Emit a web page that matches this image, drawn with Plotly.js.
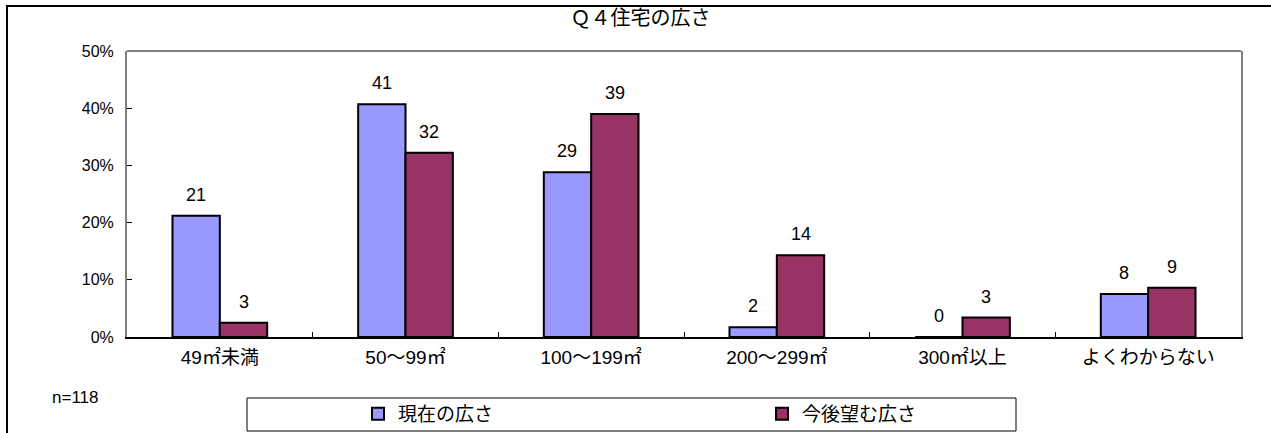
<!DOCTYPE html>
<html>
<head>
<meta charset="utf-8">
<script src="https://cdn.plot.ly/plotly-3.0.1.min.js"></script>
<style>
  html, body { margin: 0; padding: 0; background: #fff; }
  #chart { position: absolute; left: 0; top: 0; width: 1271px; height: 433px; }
  #frame { position: absolute; left: 6px; top: 5px; width: 1400px; height: 600px;
           border-top: 2px solid #000; border-left: 2px solid #000; pointer-events: none; }
</style>
</head>
<body>
<div id="chart"></div>
<div id="frame"></div>
<script>
// ---- data ----
const categories = ["49㎡未満", "50～99㎡", "100～199㎡", "200～299㎡", "300㎡以上", "よくわからない"];
const currentValues = [21.2, 40.7, 28.8, 1.7, 0, 7.5];
const futureValues  = [2.5, 32.2, 39.0, 14.3, 3.4, 8.6];
const currentLabels = ["21", "41", "29", "2", "0", "8"];
const futureLabels  = ["3", "32", "39", "14", "3", "9"];
const seriesNames = ["現在の広さ", "今後望む広さ"];
const yTicks = [0, 10, 20, 30, 40, 50];
const titleText = "Ｑ４住宅の広さ";
const noteText = "n=118";

// ---- layout geometry ----
const W = 1271, H = 433;
const M = { l: 127, r: 30, t: 51, b: 96, autoexpand: false };
const plotW = W - M.l - M.r, plotH = H - M.t - M.b;
const px2x = p => (p - M.l) / plotW;
const py2y = p => (H - M.b - p) / plotH;
const bargap = 0.49;
const barW = plotW / categories.length * (1 - bargap) / 2;
const off = barW / 2;

const FONT = 'Liberation Sans, Arial, "Noto Sans CJK JP", sans-serif';

const traces = [
  { type: 'bar', name: seriesNames[0], x: categories, y: currentValues,
    marker: { color: '#9999FF', line: { color: '#000', width: 2 } }, hoverinfo: 'skip' },
  { type: 'bar', name: seriesNames[1], x: categories, y: futureValues,
    marker: { color: '#993366', line: { color: '#000', width: 2 } }, hoverinfo: 'skip' }
];

const annotations = [];
categories.forEach((c, i) => {
  annotations.push({ x: c, y: currentValues[i], text: currentLabels[i], xshift: -off, yshift: 9,
    yanchor: 'bottom', showarrow: false, font: { size: 18, color: '#000', family: FONT } });
  annotations.push({ x: c, y: futureValues[i], text: futureLabels[i], xshift: off, yshift: 9,
    yanchor: 'bottom', showarrow: false, font: { size: 18, color: '#000', family: FONT } });
});
annotations.push({ xref: 'paper', yref: 'paper', x: px2x(50), y: py2y(397), xanchor: 'left', yanchor: 'middle',
  text: noteText, showarrow: false, font: { size: 17, color: '#000', family: FONT } });

const shapes = [
  // top border of plot area
  { type: 'line', xref: 'paper', yref: 'paper', x0: 0, x1: 1, y0: 1, y1: 1, line: { color: '#808080', width: 2 } },
  // legend box
  { type: 'rect', xref: 'paper', yref: 'paper', x0: px2x(247), x1: px2x(1016), y0: py2y(431), y1: py2y(398),
    line: { color: '#000', width: 1 }, fillcolor: '#fff', layer: 'below' }
];

const layout = {
  width: W, height: H,
  margin: M,
  paper_bgcolor: 'rgba(0,0,0,0)', plot_bgcolor: '#fff',
  font: { family: FONT, color: '#000' },
  title: { text: titleText, font: { size: 20, family: '"Noto Sans CJK JP", sans-serif', color: '#000' },
           x: 0.504, xanchor: 'center', y: 1 - 18 / H, yanchor: 'middle' },
  barmode: 'group', bargap: bargap, bargroupgap: 0,
  xaxis: { type: 'category', showline: true, linecolor: '#000', linewidth: 2,
           ticks: 'inside', tickson: 'boundaries', ticklen: 5, tickcolor: '#000', tickwidth: 1,
           tickfont: { size: 19, family: FONT }, ticklabelstandoff: 2, showgrid: false, zeroline: false,
           fixedrange: true },
  yaxis: { range: [0, 50], tickvals: yTicks, ticktext: yTicks.map(v => v + '%'),
           showline: true, mirror: true, linecolor: '#808080', linewidth: 2,
           ticks: 'inside', ticklen: 5, tickcolor: '#000', tickwidth: 1,
           tickfont: { size: 16, family: FONT }, ticklabelstandoff: 8, showgrid: false, zeroline: false,
           fixedrange: true },
  showlegend: true,
  legend: { orientation: 'h', x: px2x(358), xanchor: 'left', y: py2y(414), yanchor: 'middle',
            entrywidth: 359, entrywidthmode: 'pixels', bgcolor: 'rgba(0,0,0,0)', borderwidth: 0,
            font: { size: 19, family: '"Noto Sans CJK JP", sans-serif', color: '#000' },
            itemclick: false, itemdoubleclick: false },
  shapes: shapes,
  annotations: annotations
};

Plotly.newPlot('chart', traces, layout, { displayModeBar: false, staticPlot: true });
</script>
</body>
</html>
